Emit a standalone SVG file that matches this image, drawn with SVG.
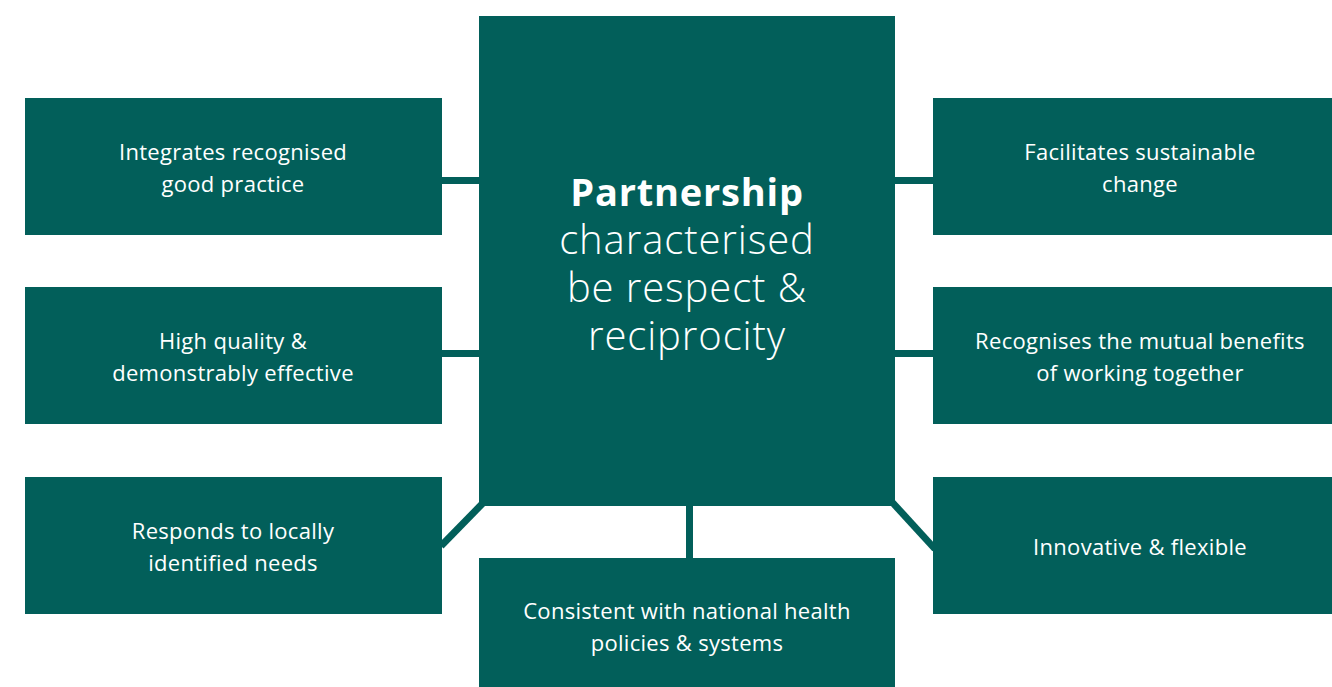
<svg xmlns="http://www.w3.org/2000/svg" width="1332" height="687" viewBox="0 0 1332 687">
<style>
.box{fill:#025f5a}
.con{stroke:#025f5a;stroke-width:7;fill:none}
.t{font-family:"Open Sans","Liberation Sans",sans-serif;font-size:22px;letter-spacing:0.3px;fill:#ffffff;text-anchor:middle}
.c{font-family:"Open Sans","Liberation Sans",sans-serif;font-size:40px;letter-spacing:0.9px;font-weight:300;fill:#ffffff;text-anchor:middle}
.cb{font-weight:700;font-size:38px;letter-spacing:0.8px}
</style>
<rect width="1332" height="687" fill="#ffffff"/>
<g id="connectors">
<line class="con" x1="441" y1="180.5" x2="480" y2="180.5"/>
<line class="con" x1="441" y1="353.5" x2="480" y2="353.5"/>
<line class="con" x1="894" y1="180.5" x2="934" y2="180.5"/>
<line class="con" x1="894" y1="353.5" x2="934" y2="353.5"/>
<line class="con" x1="689.5" y1="505" x2="689.5" y2="559"/>
<line class="con" x1="484" y1="502" x2="441" y2="546"/>
<line class="con" x1="892" y1="502" x2="935" y2="549"/>
</g>
<g id="center">
<rect class="box" x="479" y="16" width="416" height="490"/>
<text class="c cb" x="687" y="206">Partnership</text>
<text class="c" x="687" y="254">characterised</text>
<text class="c" x="687" y="302">be respect &amp;</text>
<text class="c" x="687" y="350">reciprocity</text>
</g>
<g id="n-left1">
<rect class="box" x="25" y="98" width="417" height="137"/>
<text class="t" x="233" y="160">Integrates recognised</text>
<text class="t" x="233" y="192">good practice</text>
</g>
<g id="n-left2">
<rect class="box" x="25" y="287" width="417" height="137"/>
<text class="t" x="233" y="349">High quality &amp;</text>
<text class="t" x="233" y="381">demonstrably effective</text>
</g>
<g id="n-left3">
<rect class="box" x="25" y="477" width="417" height="137"/>
<text class="t" x="233" y="539">Responds to locally</text>
<text class="t" x="233" y="571">identified needs</text>
</g>
<g id="n-right1">
<rect class="box" x="933" y="98" width="399" height="137"/>
<text class="t" x="1140" y="160">Facilitates sustainable</text>
<text class="t" x="1140" y="192">change</text>
</g>
<g id="n-right2">
<rect class="box" x="933" y="287" width="399" height="137"/>
<text class="t" x="1140" y="349">Recognises the mutual benefits</text>
<text class="t" x="1140" y="381">of working together</text>
</g>
<g id="n-right3">
<rect class="box" x="933" y="477" width="399" height="137"/>
<text class="t" x="1140" y="555">Innovative &amp; flexible</text>
</g>
<g id="n-bottom">
<rect class="box" x="479" y="558" width="416" height="129"/>
<text class="t" x="687" y="619">Consistent with national health</text>
<text class="t" x="687" y="651">policies &amp; systems</text>
</g>
</svg>
